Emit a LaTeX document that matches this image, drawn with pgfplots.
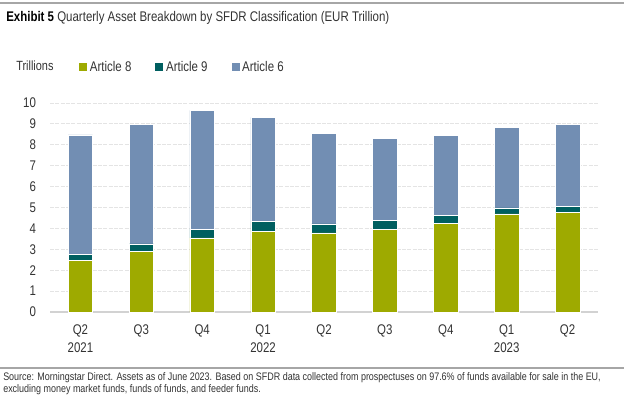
\documentclass[border=0pt]{standalone}
\usepackage{fontspec}
\setmainfont{Liberation Sans}[FakeStretch=0.82]
\usepackage{pgfplots}
\pgfplotsset{compat=1.18}
\definecolor{art8}{HTML}{9EAA00}
\definecolor{art9}{HTML}{005F60}
\definecolor{art6}{HTML}{728EB3}
\definecolor{txt}{HTML}{333333}
\definecolor{gridc}{HTML}{E4E4E4}
\begin{document}
\begin{tikzpicture}
\path[use as bounding box] (0pt,0pt) rectangle (468pt,297pt);
\draw[gray!70, line width=1pt] (0pt,294.75pt) -- (468pt,294.75pt);
\node[anchor=west, inner sep=0pt, text=black, font=\fontsize{10.5}{12}\selectfont] at (4.5pt,283.5pt) {\textbf{Exhibit 5} {\color{txt}Quarterly Asset Breakdown by SFDR Classification (EUR Trillion)}};
\node[anchor=west, inner sep=0pt, text=txt, font=\fontsize{10}{12}\selectfont] at (12pt,248pt) {Trillions};
\begin{axis}[
  at={(37.5pt,63pt)}, anchor=south west,
  scale only axis, width=411pt, height=156.75pt,
  ybar stacked, bar width=18.4pt,
  xmin=-0.5, xmax=8.5, ymin=0, ymax=10,
  xtick={0,...,8},
  xticklabels={{Q2\\2021},Q3,Q4,{Q1\\2022},Q2,Q3,Q4,{Q1\\2023},Q2},
  xticklabel style={align=center, font=\fontsize{10.5}{13.5}\selectfont, text=txt, anchor=north, yshift=-6pt},
  ytick={0,1,...,10},
  yticklabel style={font=\fontsize{10.5}{12}\selectfont, text=txt, xshift=-7pt},
  /pgf/number format/assume math mode=true,
  major tick length=0pt,
  axis line style={draw=none},
  ymajorgrids, grid style={gridc, dash pattern=on 3pt off 1pt, line width=0.6pt},
  legend style={at={(0.053,1.172)}, anchor=west, draw=none, fill=none, inner sep=0pt,
    font=\fontsize{10.5}{12}\selectfont, text=txt, legend columns=-1,
    /tikz/every even column/.append style={column sep=16pt}},
  legend image code/.code={\path[#1,draw=none] (0pt,-3pt) rectangle (6pt,3pt);},
  extra y ticks={0}, extra y tick labels={}, extra y tick style={grid style={solid, draw=gray!35, line width=0.8pt}},
]
\addplot[fill=art8, draw=white, line width=0.4pt] coordinates {(0,2.48) (1,2.91) (2,3.55) (3,3.87) (4,3.79) (5,3.95) (6,4.24) (7,4.69) (8,4.75)};
\addplot[fill=art9, draw=white, line width=0.4pt] coordinates {(0,0.29) (1,0.35) (2,0.42) (3,0.47) (4,0.43) (5,0.42) (6,0.40) (7,0.29) (8,0.29)};
\addplot[fill=art6, draw=white, line width=0.4pt] coordinates {(0,5.71) (1,5.70) (2,5.68) (3,4.97) (4,4.31) (5,3.95) (6,3.82) (7,3.85) (8,3.93)};
\legend{Article 8, Article 9, Article 6}
\end{axis}
\draw[gray!70, line width=1.1pt] (0pt,21pt) -- (468pt,21pt);
\node[anchor=west, inner sep=0pt, text=txt, font=\fontsize{8.2}{9}\selectfont] at (2.25pt,14pt) {Source: Morningstar Direct. Assets as of June 2023. Based on SFDR data collected from prospectuses on 97.6\% of funds available for sale in the EU,};
\node[anchor=west, inner sep=0pt, text=txt, font=\fontsize{8.2}{9}\selectfont] at (2.25pt,5pt) {excluding money market funds, funds of funds, and feeder funds.};
\end{tikzpicture}
\end{document}
